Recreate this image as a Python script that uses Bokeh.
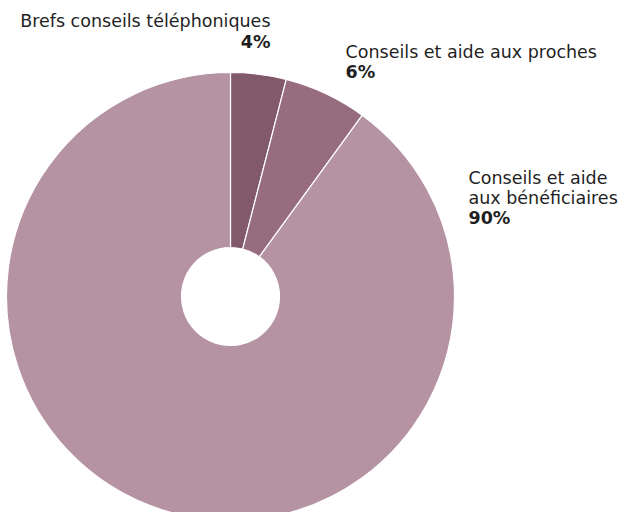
from bokeh.plotting import figure
from bokeh.models import Range1d
from bokeh.embed import file_html
from bokeh.resources import INLINE
from bokeh.core.properties import value
import math

# data
categories = ["Brefs conseils téléphoniques", "Conseils et aide aux proches", "Conseils et aide aux bénéficiaires"]
shares = [4, 6, 90]
share_labels = ["4%", "6%", "90%"]
colors = ["#82586B", "#976C7E", "#B593A2"]

W, H = 622, 512
p = figure(width=W, height=H, output_backend="svg", toolbar_location=None,
           x_range=Range1d(0, W), y_range=Range1d(0, H), min_border=0)
p.axis.visible = False
p.grid.visible = False
p.outline_line_color = None
p.background_fill_color = "white"

# screen -> data helpers
def sx(x):
    return x
def sy(y):
    return H - y

cx, cy = sx(230), sy(296)
total = sum(shares)
starts, ends = [], []
cum = 0
for v in shares:
    starts.append(math.pi / 2 - 2 * math.pi * cum / total)
    cum += v
    ends.append(math.pi / 2 - 2 * math.pi * cum / total)

p.annular_wedge(x=[cx] * 3, y=[cy] * 3, inner_radius=49, outer_radius=224,
                start_angle=starts, end_angle=ends, direction="clock",
                fill_color=colors, line_color="white", line_width=1.2)

font = value("DejaVu Sans")
tc = "#1f1f1f"
fs = "17.5px"
dy = -6

# label 1
p.text(x=[sx(270)], y=[sy(26 + dy)], text=["Brefs conseils téléphoniques"], text_align="right",
       text_baseline="alphabetic", text_font=font, text_font_size=fs, text_color=tc)
p.text(x=[sx(270)], y=[sy(47 + dy)], text=[share_labels[0]], text_align="right",
       text_baseline="alphabetic", text_font=font, text_font_size=fs, text_font_style="bold", text_color=tc)
# label 2
p.text(x=[sx(345)], y=[sy(57 + dy)], text=["Conseils et aide aux proches"], text_align="left",
       text_baseline="alphabetic", text_font=font, text_font_size=fs, text_color=tc)
p.text(x=[sx(345)], y=[sy(77 + dy)], text=[share_labels[1]], text_align="left",
       text_baseline="alphabetic", text_font=font, text_font_size=fs, text_font_style="bold", text_color=tc)
# label 3
p.text(x=[sx(468), sx(468)], y=[sy(183 + dy), sy(203 + dy)], text=["Conseils et aide", "aux bénéficiaires"], text_align="left",
       text_baseline="alphabetic", text_font=font, text_font_size=fs, text_color=tc)
p.text(x=[sx(468)], y=[sy(223 + dy)], text=[share_labels[2]], text_align="left",
       text_baseline="alphabetic", text_font=font, text_font_size=fs, text_font_style="bold", text_color=tc)

open("out.html", "w").write(file_html(p, INLINE))
